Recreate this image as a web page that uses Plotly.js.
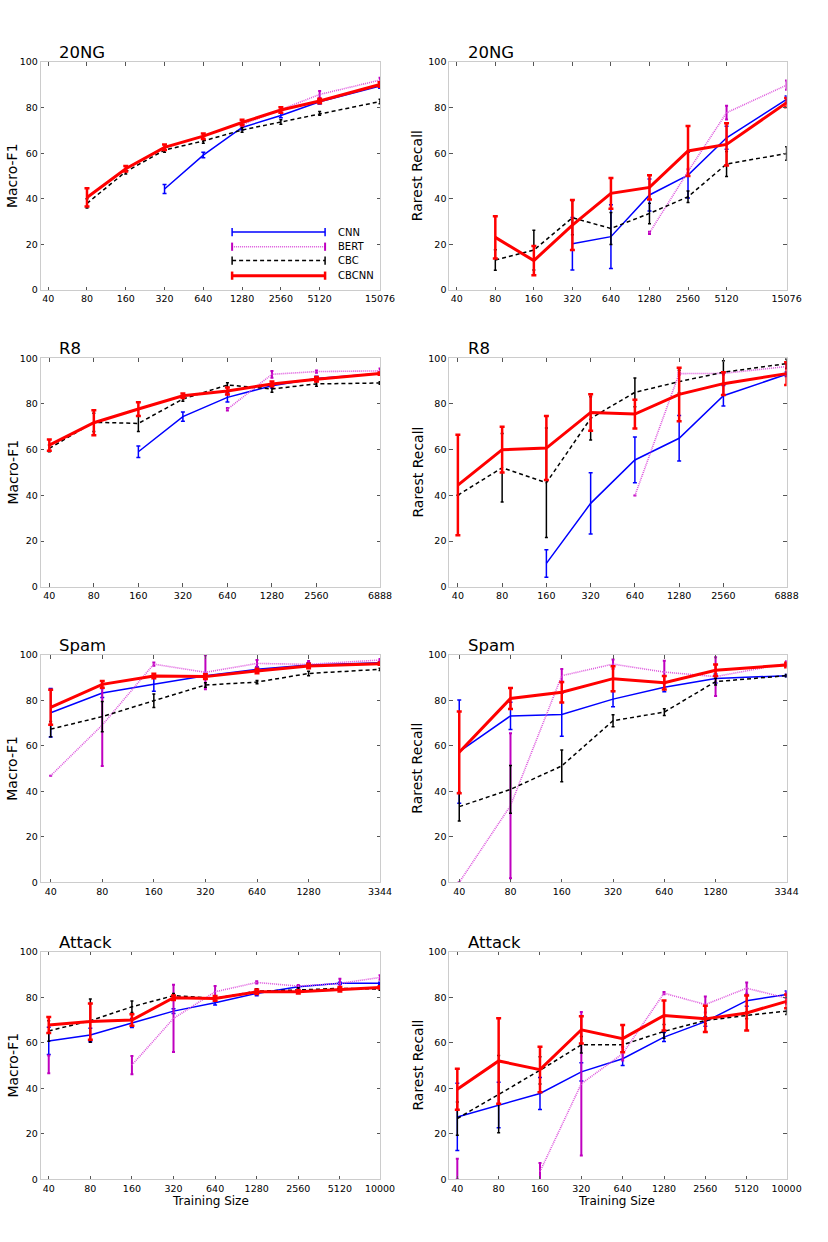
<!DOCTYPE html>
<html><head><meta charset="utf-8">
<script src="https://cdn.plot.ly/plotly-3.0.1.min.js"></script>
<style>html,body{margin:0;padding:0;background:#fff}#chart{width:828px;height:1242px}</style>
</head><body><div id="chart"></div>
<script>
// ---------- data ----------
const methods = ['CNN', 'BERT', 'CBC', 'CBCNN'];
const panelTitles = ['20NG', '20NG', 'R8', 'R8', 'Spam', 'Spam', 'Attack', 'Attack'];
const metricLabels = ['Macro-F1', 'Rarest Recall'];
const xLabel = 'Training Size';

const sizes20NG = [40, 80, 160, 320, 640, 1280, 2560, 5120, 15076];
const sizesR8 = [40, 80, 160, 320, 640, 1280, 2560, 6888];
const sizesSpam = [40, 80, 160, 320, 640, 1280, 3344];
const sizesAttack = [40, 80, 160, 320, 640, 1280, 2560, 5120, 10000];

// 20NG Macro-F1
const ngMacroCNN = [null, null, null, 44.3, 59.2, 71.3, 76.6, 82.6, 89.5];
const ngMacroCNNErr = [0, 0, 0, 2, 1.2, 1, 1, 1, 1];
const ngMacroBERT = [null, null, null, null, null, 72.5, 79, 85.8, 92.1];
const ngMacroBERTErr = [0, 0, 0, 0, 0, 1, 1, 1.5, 1];
const ngMacroCBC = [null, 38, 51.9, 61.4, 65.4, 70.2, 73.7, 77.5, 82.7];
const ngMacroCBCErr = [0, 2, 1, 1, 1, 1, 1, 0.8, 1];
const ngMacroCBCNN = [null, 40.6, 53.2, 62.6, 67.5, 73.5, 79, 82.9, 90.2];
const ngMacroCBCNNErr = [0, 4, 1.2, 1.2, 1.2, 1.2, 1.2, 1, 1];
// 20NG Rarest Recall
const ngRareCNN = [null, null, null, 20.3, 23.4, 41.7, 50.4, 66.8, 83.6];
const ngRareCNNErr = [0, 0, 0, 11.5, 14, 7, 10, 5, 1.5];
const ngRareBERT = [null, null, null, null, null, 25.1, 52, 77.8, 89.9];
const ngRareBERTErr = [0, 0, 0, 0, 0, 0.5, 1, 3, 2];
const ngRareCBC = [null, 13.2, 17.5, 31.7, 27, 33.6, 40.9, 55.3, 59.9];
const ngRareCBCErr = [0, 4.5, 8.7, 7.5, 7, 4.5, 2.5, 5.5, 3];
const ngRareCBCNN = [null, 23.1, 12.9, 28.5, 42.4, 45, 61, 63.9, 82.2];
const ngRareCBCNNErr = [0, 9.3, 6.4, 11, 6.7, 5.3, 11, 9.3, 2];

// R8 Macro-F1
const r8MacroCNN = [null, null, 59.1, 74.5, 82.9, 88, 91.2, 93.4];
const r8MacroCNNErr = [0, 0, 2.5, 2, 2, 1, 1, 0.5];
const r8MacroBERT = [null, null, null, null, 77.7, 93, 94.2, 94.5];
const r8MacroBERTErr = [0, 0, 0, 0, 0.5, 1.5, 0.5, 1];
const r8MacroCBC = [60.6, 72, 71.5, 82.2, 88.3, 86.6, 88.8, 89.2];
const r8MacroCBCErr = [1.5, 4, 3.5, 1, 1, 1.5, 1, 0.5];
const r8MacroCBCNN = [62, 71.8, 77.8, 83.6, 85.7, 88.8, 90.8, 93.3];
const r8MacroCBCNNErr = [2.5, 5.5, 3, 1, 1.5, 1, 1, 0.5];
// R8 Rarest Recall
const r8RareCNN = [null, null, 10.2, 36.5, 55.5, 65, 83.6, 93];
const r8RareCNNErr = [0, 0, 6, 13.4, 10, 10, 4.5, 1];
const r8RareBERT = [null, null, null, null, 39.9, 93.3, 93.4, 96.4];
const r8RareBERTErr = [0, 0, 0, 0, 0, 0.5, 0.5, 1];
const r8RareCBC = [40.1, 52.1, 45.5, 73.7, 85.1, 89.8, 93.9, 97.7];
const r8RareCBCErr = [0, 15, 24, 9.5, 6.3, 5, 5, 2];
const r8RareCBCNN = [44.5, 60, 60.7, 76.3, 75.6, 84.2, 88.9, 93.3];
const r8RareCBCNNErr = [22, 10, 14, 8, 6.3, 11.7, 5, 5];

// Spam Macro-F1
const spamMacroCNN = [74.6, 83.3, 87.1, 90.9, 93.7, 95.6, 96.6];
const spamMacroCNNErr = [10.7, 2, 3, 1, 1, 1, 0.5];
const spamMacroBERT = [46.9, 69.2, 96, 92.4, 96.3, 95.9, 97.8];
const spamMacroBERTErr = [0, 18, 0.7, 7.5, 1.5, 1.5, 0.5];
const spamMacroCBC = [67.4, 72.9, 79.9, 86.8, 88.1, 91.9, 93.7];
const spamMacroCBCErr = [3.4, 6.7, 3, 1, 0.7, 1, 0.5];
const spamMacroCBCNN = [77, 87.1, 90.8, 90.5, 93, 95.2, 96.2];
const spamMacroCBCNNErr = [7.7, 1.5, 1, 1, 1, 1, 0.5];
// Spam Rarest Recall
const spamRareCNN = [57.5, 73.2, 73.8, 80.6, 85.8, 89.7, 90.9];
const spamRareCNNErr = [22.7, 6, 9.5, 3.4, 2, 2, 0.5];
const spamRareBERT = [0, 33.7, 90.9, 96, 92.5, 90.5, 96.3];
const spamRareBERTErr = [0, 31.9, 3, 2, 5, 8.5, 1];
const spamRareCBC = [33.3, 40.9, 51.2, 71.1, 74.9, 88.3, 90.9];
const spamRareCBCErr = [6.3, 10.5, 7, 2.6, 1.5, 1.5, 0.5];
const spamRareCBCNN = [57.2, 80.9, 83.6, 89.6, 87.8, 93.3, 95.6];
const spamRareCBCNNErr = [18, 4.6, 4.5, 5.5, 3, 2.5, 1];

// Attack Macro-F1
const atkMacroCNN = [60.8, 63.4, 68.7, 73.9, 77.6, 81.7, 84.6, 86.1, 86.1];
const atkMacroCNNErr = [6, 3, 2, 1, 1, 1, 0.5, 0.5, 0.5];
const atkMacroBERT = [50.5, null, 50.2, 70.7, 82.4, 86.5, 84.9, 86.1, 88.7];
const atkMacroBERTErr = [3.9, 0, 4, 14.8, 2.5, 0.5, 0.5, 2, 1];
const atkMacroCBC = [65.2, 69.7, 75.8, 80.7, 79.5, 82.7, 83.2, 83.9, 83.6];
const atkMacroCBCErr = [4.5, 9.5, 2.5, 1, 1, 1, 1, 0.5, 0.5];
const atkMacroCBCNN = [67.8, 69.3, 70, 79.8, 79.5, 82.4, 82.4, 83.5, 84.3];
const atkMacroCBCNNErr = [3.5, 8, 2.5, 1, 1, 1, 0.7, 1, 0.5];
// Attack Rarest Recall
const atkRareCNN = [27.4, 32.6, 37.7, 47.2, 53, 62.5, 69.3, 78.5, 81.2];
const atkRareCNNErr = [14.8, 10, 7, 4, 3, 2, 2, 2.5, 1.5];
const atkRareBERT = [4.5, null, 3.4, 42, 55.2, 81.8, 76.8, 84, 79.6];
const atkRareBERTErr = [4.5, 0, 3.7, 31.5, 3, 0.5, 3.5, 2.5, 2.5];
const atkRareCBC = [26.7, 37.4, 47.9, 59.1, 59.1, 65, 69.8, 72, 73.9];
const atkRareCBCErr = [7.3, 17, 6, 3.6, 3, 3, 1.5, 1.5, 1.5];
const atkRareCBCNN = [39.6, 52, 48.2, 65.7, 61.8, 72, 70.5, 73.1, 78.2];
const atkRareCBCNNErr = [9, 18.8, 10, 6, 6, 6.6, 5.8, 7.7, 3];

// ---------- assembly ----------
const panels = [
  {x: sizes20NG, s: [[ngMacroCNN, ngMacroCNNErr], [ngMacroBERT, ngMacroBERTErr], [ngMacroCBC, ngMacroCBCErr], [ngMacroCBCNN, ngMacroCBCNNErr]]},
  {x: sizes20NG, s: [[ngRareCNN, ngRareCNNErr], [ngRareBERT, ngRareBERTErr], [ngRareCBC, ngRareCBCErr], [ngRareCBCNN, ngRareCBCNNErr]]},
  {x: sizesR8, s: [[r8MacroCNN, r8MacroCNNErr], [r8MacroBERT, r8MacroBERTErr], [r8MacroCBC, r8MacroCBCErr], [r8MacroCBCNN, r8MacroCBCNNErr]]},
  {x: sizesR8, s: [[r8RareCNN, r8RareCNNErr], [r8RareBERT, r8RareBERTErr], [r8RareCBC, r8RareCBCErr], [r8RareCBCNN, r8RareCBCNNErr]]},
  {x: sizesSpam, s: [[spamMacroCNN, spamMacroCNNErr], [spamMacroBERT, spamMacroBERTErr], [spamMacroCBC, spamMacroCBCErr], [spamMacroCBCNN, spamMacroCBCNNErr]]},
  {x: sizesSpam, s: [[spamRareCNN, spamRareCNNErr], [spamRareBERT, spamRareBERTErr], [spamRareCBC, spamRareCBCErr], [spamRareCBCNN, spamRareCBCNNErr]]},
  {x: sizesAttack, s: [[atkMacroCNN, atkMacroCNNErr], [atkMacroBERT, atkMacroBERTErr], [atkMacroCBC, atkMacroCBCErr], [atkMacroCBCNN, atkMacroCBCNNErr]]},
  {x: sizesAttack, s: [[atkRareCNN, atkRareCNNErr], [atkRareBERT, atkRareBERTErr], [atkRareCBC, atkRareCBCErr], [atkRareCBCNN, atkRareCBCNNErr]]}
];

const styles = {
  CNN:   {line: {color: '#0000ff', width: 1.5}, err: {color: '#0000ff', thickness: 1.5, width: 2}},
  BERT:  {line: {color: '#dd55dd', width: 1.6, dash: '1px,1px'}, err: {color: '#bf00bf', thickness: 2, width: 1.5}},
  CBC:   {line: {color: '#000000', width: 1.5, dash: '4px,3px'}, err: {color: '#000000', thickness: 1.5, width: 1.5}},
  CBCNN: {line: {color: '#ff0000', width: 3}, err: {color: '#ff0000', thickness: 2.5, width: 2.5}}
};

const FONT = 'DejaVu Sans, Liberation Sans, sans-serif';
const xDomains = [[0.0492, 0.459], [0.5427, 0.950]];
const yDomains = [[0.7665, 0.950], [0.5276, 0.7115], [0.2896, 0.4726], [0.0505, 0.2337]];

const traces = [];
const layout = {
  width: 828, height: 1242,
  margin: {l: 0, r: 0, t: 0, b: 0},
  paper_bgcolor: '#ffffff', plot_bgcolor: '#ffffff',
  showlegend: false,
  font: {family: FONT, size: 9.5, color: '#000'},
  annotations: [], shapes: []
};

panels.forEach((p, i) => {
  const n = i + 1;
  const row = Math.floor(i / 2), col = i % 2;
  const xa = n === 1 ? 'x' : 'x' + n, ya = n === 1 ? 'y' : 'y' + n;
  p.s.forEach((pair, k) => {
    const m = methods[k];
    traces.push({
      type: 'scatter', mode: 'lines', name: m,
      x: p.x, y: pair[0], xaxis: xa, yaxis: ya,
      connectgaps: false,
      line: styles[m].line,
      error_y: Object.assign({type: 'data', array: pair[1], visible: true}, styles[m].err),
      hoverinfo: 'skip'
    });
  });
  const xmax = p.x[p.x.length - 1];
  const axCommon = {
    showline: true, linecolor: '#cccccc', linewidth: 1, mirror: 'ticks',
    ticks: 'inside', ticklen: 3.5, tickcolor: '#555', tickwidth: 1,
    showgrid: false, zeroline: false,
    tickfont: {family: FONT, size: 9.5, color: '#000'}
  };
  layout['xaxis' + (n === 1 ? '' : n)] = Object.assign({}, axCommon, {
    domain: xDomains[col], anchor: ya, type: 'log',
    range: [Math.log10(35), Math.log10(xmax)],
    tickmode: 'array', tickvals: p.x, ticktext: p.x.map(String)
  });
  layout['yaxis' + (n === 1 ? '' : n)] = Object.assign({}, axCommon, {
    domain: yDomains[row], anchor: xa, range: [0, 100],
    tickmode: 'array', tickvals: [0, 20, 40, 60, 80, 100]
  });
  layout.annotations.push({
    xref: xa + ' domain', yref: ya + ' domain', x: 0.048, y: 1, yshift: -2,
    xanchor: 'left', yanchor: 'bottom', showarrow: false,
    text: panelTitles[i], font: {family: FONT, size: 16.5, color: '#000'}
  });
  layout.annotations.push({
    xref: xa + ' domain', yref: ya + ' domain',
    x: col === 0 ? -0.0846 : -0.0957, y: 0.5,
    xanchor: 'center', yanchor: 'middle', textangle: -90, showarrow: false,
    text: metricLabels[col], font: {family: FONT, size: 14, color: '#000'}
  });
  if (row === 3) {
    layout.annotations.push({
      xref: xa + ' domain', yref: ya + ' domain', x: col === 0 ? 0.5 : 0.497, y: 0, yshift: -14,
      xanchor: 'center', yanchor: 'top', showarrow: false, borderpad: 0,
      text: xLabel, font: {family: FONT, size: 12, color: '#000'}
    });
  }
});

// legend (first panel), drawn with shapes to show error-bar caps
const legY = [0.254, 0.190, 0.129, 0.063];
const legX0 = 0.564, legX1 = 0.838, capH = 0.018;
methods.forEach((m, k) => {
  const st = styles[m];
  layout.shapes.push({type: 'line', xref: 'x domain', yref: 'y domain',
    x0: legX0, x1: legX1, y0: legY[k], y1: legY[k],
    line: {color: st.line.color, width: st.line.width, dash: st.line.dash || 'solid'}});
  [legX0, legX1].forEach(xx => layout.shapes.push({type: 'line', xref: 'x domain', yref: 'y domain',
    x0: xx, x1: xx, y0: legY[k] - capH, y1: legY[k] + capH,
    line: {color: st.err.color, width: st.err.thickness}}));
  layout.annotations.push({xref: 'x domain', yref: 'y domain', x: 0.87, y: legY[k],
    xanchor: 'left', yanchor: 'middle', showarrow: false, text: m,
    font: {family: FONT, size: 10, color: '#000'}});
});

Plotly.newPlot('chart', traces, layout, {staticPlot: true, displayModeBar: false});
</script>
</body></html>
